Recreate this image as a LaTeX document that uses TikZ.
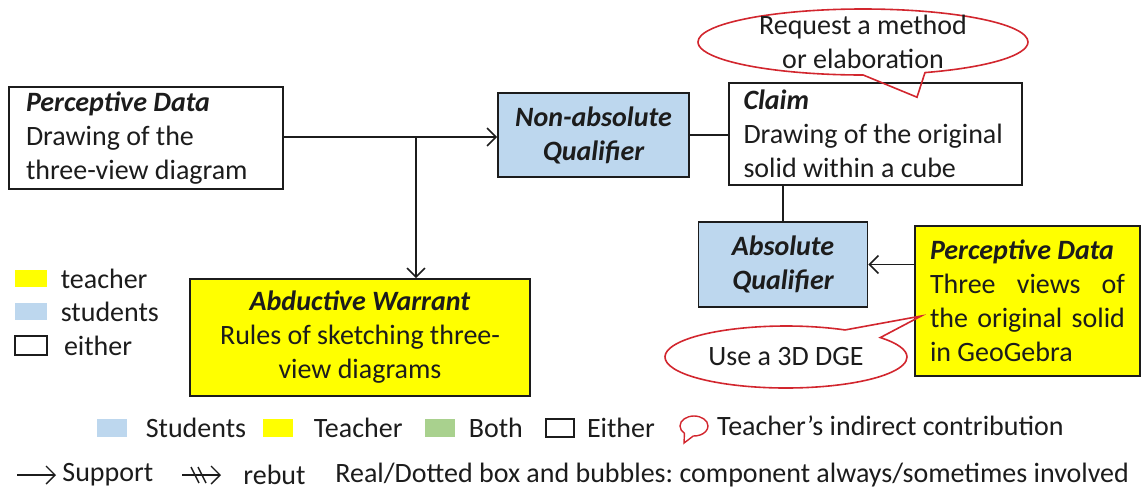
\documentclass[tikz,border=0pt]{standalone}
\usepackage{fontspec}
\setmainfont{Carlito}
\usetikzlibrary{arrows.meta,positioning,calc,shapes.callouts}
\definecolor{ink}{HTML}{1C1C1C}
\definecolor{stublue}{HTML}{BDD7EE}
\definecolor{tchyellow}{HTML}{FFFF00}
\definecolor{bothgreen}{HTML}{A9D18E}
\definecolor{bubred}{HTML}{D2262E}
\frenchspacing
\tikzset{
  font=\fontsize{14}{17}\selectfont,
  execute at begin node={\spaceskip=0pt\xspaceskip=0pt},
  box/.style={draw=ink, line width=0.8pt, text=ink, align=left, inner ysep=0pt},
  stubox/.style={box, fill=stublue, align=center,
    font=\fontsize{14}{17}\selectfont\bfseries\itshape},
  tchbox/.style={box, fill=tchyellow},
  bubble/.style={ellipse callout, draw=bubred, line width=0.8pt, text=ink,
    align=center, inner sep=0pt, callout pointer arc=22},
  support/.style={-{Straight Barb[length=4.5pt,width=9pt]}, draw=ink, line width=0.8pt},
  link/.style={draw=ink, line width=0.8pt},
  swatch/.style={minimum width=15pt, minimum height=9pt, inner sep=0pt},
  keytext/.style={anchor=west, inner sep=0pt, text=ink}
}
\newcommand{\head}[1]{\textbf{\textit{#1}}}

\begin{document}
\begin{tikzpicture}[x=0.5pt,y=-0.5pt]
  \useasboundingbox (0,0) rectangle (1142,489);

  % argument components
  \node[box, minimum width=137pt, minimum height=51pt, text width=120pt] (pd1) at (146,138)
    {\head{Perceptive Data}\\Drawing of the\\three-view diagram};
  \node[stubox, minimum width=95.5pt, minimum height=42pt] (naq) at (593.5,135) {Non-absolute\\Qualifier};
  \node[box, minimum width=146.5pt, minimum height=51pt, text width=132pt] (claim) at (875.5,134)
    {\head{Claim}\\Drawing of the original\\solid within a cube};
  \node[stubox, minimum width=84.5pt, minimum height=42.5pt] (aq) at (783,264.5) {Absolute\\Qualifier};
  \node[tchbox, minimum width=112.5pt, minimum height=75pt, text width=97.5pt] (pd2) at (1027.5,301)
    {\head{Perceptive Data}\\Three\hfill views\hfill of\\the\hfill original\hfill solid\\in GeoGebra};
  \node[tchbox, align=center, minimum width=170pt, minimum height=58.5pt] (aw) at (360,337.5)
    {\head{Abductive Warrant}\\Rules of sketching three-\\view diagrams};

  % connectors
  \coordinate (jn) at (416,137);
  \draw[support] (pd1.east |- jn) -- (naq.west |- jn);
  \draw[support] (jn) -- (jn |- aw.north);
  \draw[link] (naq.east) -- (claim.west |- naq.east);
  \draw[link] (aq.north) -- (aq.north |- claim.south);
  \draw[support] (pd2.west |- aq.east) -- (aq.east);

  % teacher bubbles
  \node[bubble, minimum width=165pt, minimum height=33pt, inner ysep=-3pt,
    callout absolute pointer={($(claim.north)+(41.5,15)$)}] (req) at (863,42)
    {Request a method\\or elaboration};
  \node[bubble, minimum width=121pt, minimum height=31pt,
    callout absolute pointer={($(pd2.west)+(7,15)$)}] (dge) at (786,357) {Use a 3D DGE};

  % legend, left
  \node[swatch, minimum width=16pt, minimum height=8.5pt, fill=tchyellow] (ltch) at (31,278.5) {};
  \node[keytext, right=6.5pt of ltch] {teacher};
  \node[swatch, minimum width=16pt, minimum height=8.5pt, fill=stublue] (lstu) at (31,311.5) {};
  \node[keytext, right=6.5pt of lstu] {students};
  \node[swatch, minimum width=16pt, minimum height=9.5pt, draw=ink, line width=0.6pt] (leit) at (31,345.5) {};
  \node[keytext, right=8pt of leit] {either};

  % legend, bottom
  \node[swatch, fill=stublue] (kstu) at (112,428) {};
  \node[keytext, right=9pt of kstu] {Students};
  \node[swatch, fill=tchyellow] (ktch) at (278,428) {};
  \node[keytext, right=10pt of ktch] {Teacher};
  \node[swatch, fill=bothgreen] (kboth) at (440,428) {};
  \node[keytext, right=6.5pt of kboth] {Both};
  \node[swatch, minimum width=14pt, draw=ink, line width=0.6pt] (keit) at (560,428) {};
  \node[keytext, right=6pt of keit] {Either};
  \node[bubble, minimum width=14pt, minimum height=10pt, line width=0.7pt, callout pointer arc=40,
    callout absolute pointer={(684,443)}] (kbub) at (694,426) {};
  \node[keytext, right=4pt of kbub] {Teacher’s indirect contribution};

  \coordinate (sa) at (17,475);
  \coordinate (sb) at (56,475);
  \draw[support, line width=0.7pt] (sa) -- (sb);
  \node[keytext, right=3pt of sb] {Support};
  \coordinate (ra) at (182,475);
  \coordinate (rb) at (221,475);
  \draw[support, line width=0.7pt] (ra) -- (rb);
  \draw[ink, line width=0.7pt] ($(ra)+(9,-8)$) -- ($(ra)+(17,8)$) ($(ra)+(16,-8)$) -- ($(ra)+(24,8)$);
  \node[keytext, right=11pt of rb] {rebut};
  \node[keytext] at (335,475) {Real/Dotted box and bubbles: component always/sometimes involved};
\end{tikzpicture}
\end{document}
